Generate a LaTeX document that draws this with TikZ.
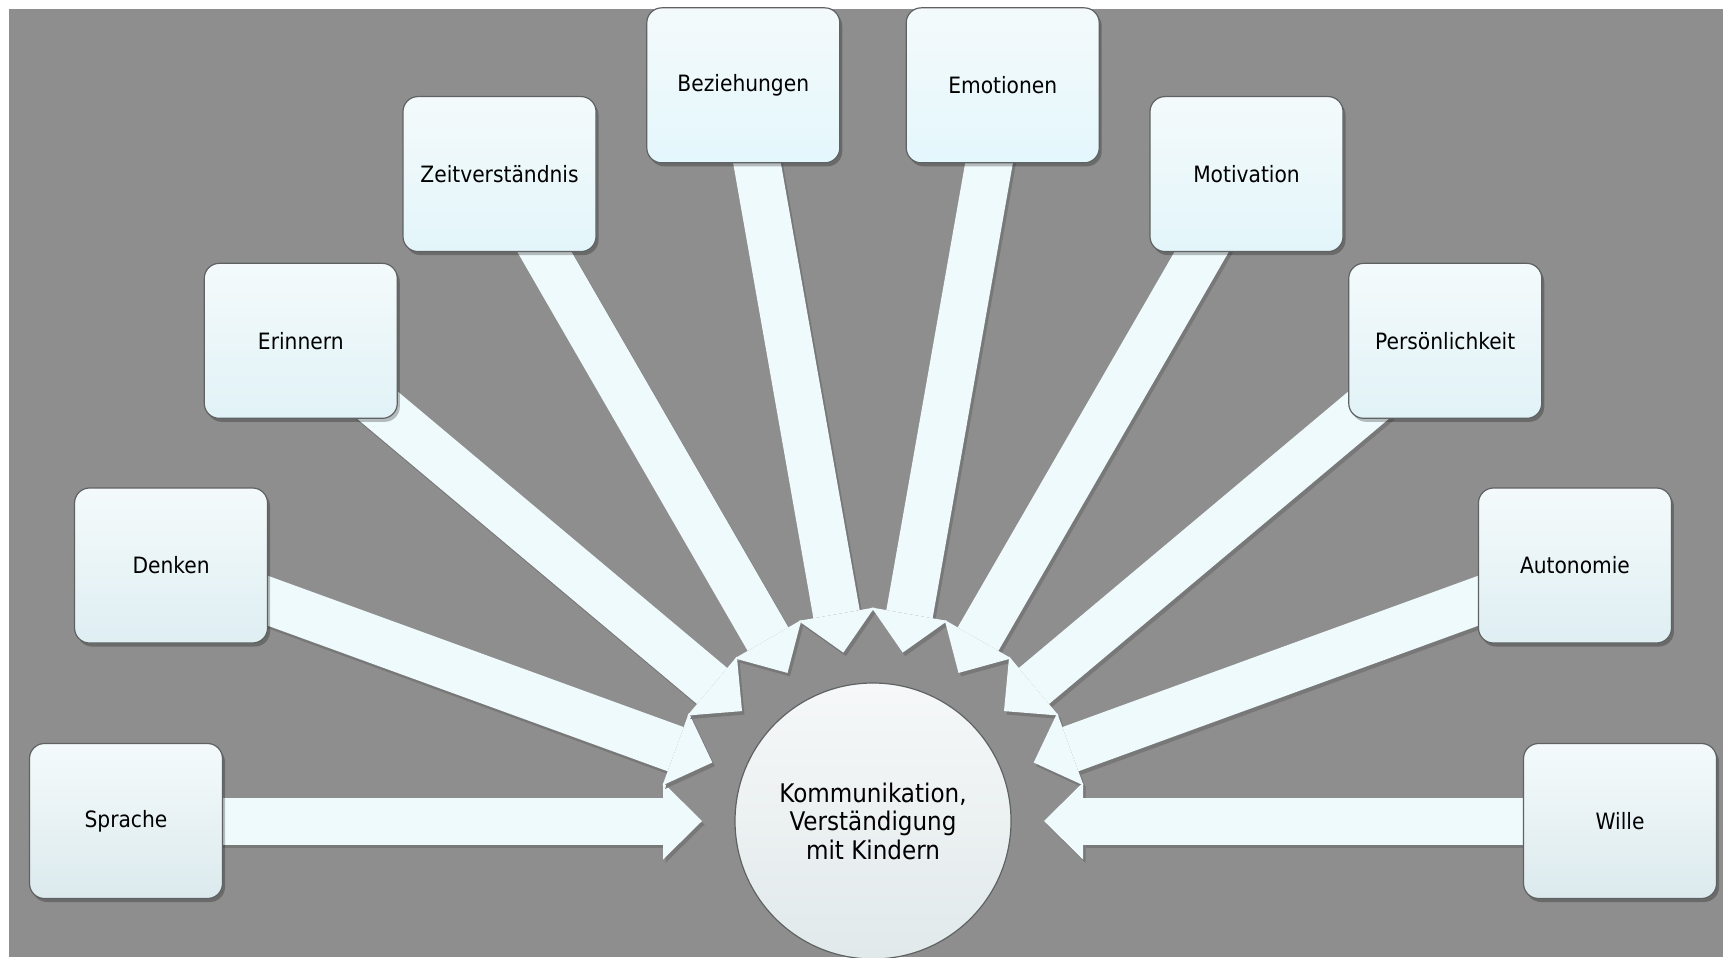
\documentclass[tikz,border=0pt]{standalone}
\usepackage{fontspec}
\setmainfont{DejaVu Sans Condensed}
\usepackage{xcolor}
\usetikzlibrary{arrows.meta,calc,shadows}
\definecolor{GrauHintergrund}{RGB}{142,142,142}
\definecolor{GrauSchatten}{RGB}{120,120,120}
\definecolor{KastenOben}{RGB}{244,250,251}
\definecolor{KastenGrau}{RGB}{220,234,237}
\definecolor{KastenCyan}{RGB}{228,247,252}
\definecolor{KastenRand}{RGB}{95,98,99}
\definecolor{PfeilWeiss}{RGB}{239,250,252}
\definecolor{KreisOben}{RGB}{246,248,249}
\definecolor{KreisUnten}{RGB}{225,233,234}
\pgfdeclarelayer{hinten}
\pgfdeclarelayer{pfeile}
\pgfsetlayers{hinten,pfeile,main}

\begin{document}
\begin{tikzpicture}[x=0.1mm,y=0.1mm,
  kasten/.style={draw=KastenRand,line width=0.12mm,rounded corners=1.5mm,
    top color=KastenOben,bottom color=KastenCyan!#1!KastenGrau,
    minimum width=19.3mm,minimum height=15.5mm,inner sep=0pt,
    font=\fontsize{6.4pt}{8pt}\selectfont,
    drop shadow={shadow xshift=0.25mm,shadow yshift=-0.35mm,fill=black,opacity=0.25}},
  kreis/.style={circle,draw=KastenRand,line width=0.12mm,
    top color=KreisOben,bottom color=KreisUnten,
    minimum size=27.6mm,inner sep=0pt,outer sep=0pt,align=center,
    font=\fontsize{7.3pt}{8.1pt}\selectfont},
  pfeil/.style={draw=PfeilWeiss,line width=4.7mm,shorten >=3.3mm,
    -{Triangle[length=3.9mm,width=7.7mm,line width=0pt]}},
  pfeilschatten/.style={pfeil,draw=GrauSchatten,
    transform canvas={shift={(0.25mm,-0.35mm)}}}]
  \useasboundingbox (0,0) rectangle (1723,957);
  \begin{pgfonlayer}{hinten}
    \fill[GrauHintergrund] (9,0) rectangle (1723,948);
  \end{pgfonlayer}

  \coordinate (mitte) at (873,136);
  \node[kreis] (kreis) at (mitte) {Kommunikation,\\Verständigung\\mit Kindern};

  % Kaesten im Halbkreis, alle 20 Grad, Pfeile zur Mitte
  \foreach \w/\nm/\txt [evaluate=\w as \p using {int(100*sin(\w))}] in
      {180/sprache/Sprache,160/denken/Denken,
      140/erinnern/Erinnern,120/zeit/Zeitverständnis,100/beziehung/Beziehungen,
      80/emotion/Emotionen,60/motivation/Motivation,40/person/Persönlichkeit,
      20/autonomie/Autonomie,0/wille/Wille}{
    \node[kasten=\p] (\nm) at ($(mitte)+(\w:747)$) {\txt};
    \begin{pgfonlayer}{pfeile}
      \draw[pfeilschatten] (\nm.center) -- (kreis);
      \draw[pfeil] (\nm.center) -- (kreis);
    \end{pgfonlayer}
  }
\end{tikzpicture}
\end{document}
